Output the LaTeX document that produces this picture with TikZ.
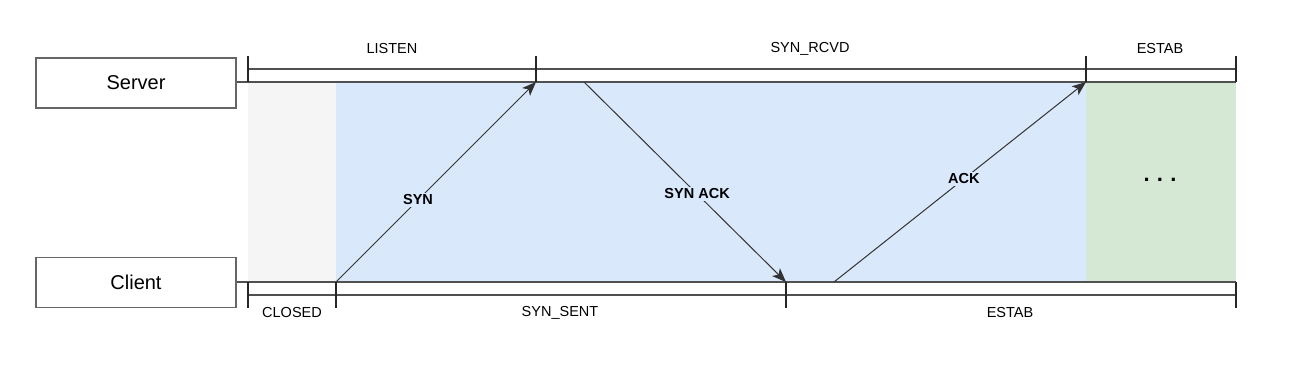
\documentclass[tikz,border=0pt]{standalone}
\usepackage{fontspec}
\setmainfont{Liberation Sans}
\usetikzlibrary{arrows.meta,positioning}
\definecolor{BoxGray}{RGB}{102,102,102}
\definecolor{LineGray}{RGB}{80,80,80}
\definecolor{ClosedFill}{RGB}{245,245,245}
\definecolor{SynFill}{RGB}{218,232,252}
\definecolor{EstabFill}{RGB}{213,232,212}
\tikzset{
  actor/.style={draw=BoxGray,line width=1.6pt,minimum width=200pt,minimum height=50pt,
    inner sep=0pt,font=\fontsize{20}{24}\selectfont},
  state/.style={font=\fontsize{14.5}{17}\selectfont,inner sep=0pt},
  msg/.style={->,line width=1pt,draw=black!80},
  msglabel/.style={fill=SynFill,inner sep=2pt,font=\bfseries\fontsize{14.5}{17}\selectfont},
  lifeline/.style={LineGray,line width=1.6pt},
  tick/.style={black!85,line width=1.4pt}
}

\begin{document}
\begin{tikzpicture}[x=1pt,y=-1pt,>={Stealth[length=14pt,width=11pt,inset=3.5pt]}]
      \useasboundingbox (0,0) rectangle (1291,367);
      % phases
      \fill[ClosedFill] (248,82) rectangle (336,282);
      \fill[SynFill] (336,82) rectangle (1086,282);
      \fill[EstabFill] (1086,82) rectangle (1236,282);
      % actors
      \node[actor] (server) at (136,83) {Server};
      \node[actor] (client) at (136,282.5) {Client};
      \coordinate (sEnd) at (1236,82);
      \coordinate (cEnd) at (1236,282);
      \draw[lifeline] (server.east|-sEnd) -- (sEnd);
      \draw[lifeline] (client.east|-cEnd) -- (cEnd);
      % server states
      \draw[LineGray,line width=1.2pt] (248,69) -- (1236,69);
      \foreach \x in {248,536,1086,1236}
        \draw[tick] (\x,56) -- (\x,82);
      \node[state] (listen) at (392,49) {LISTEN};
      \node[state] (rcvd) at (810,49) {SYN\_RCVD};
      \node[state] (sEstab) at (1160,49) {ESTAB};
      % client states
      \draw[LineGray,line width=1.2pt] (248,295) -- (1236,295);
      \foreach \x in {248,336,786,1236}
        \draw[tick] (\x,282) -- (\x,308);
      \node[state] (closed) at (292,313) {CLOSED};
      \node[state] (sent) at (560,313) {SYN\_SENT};
      \node[state] (cEstab) at (1010,313) {ESTAB};
      % messages
      \coordinate (c1) at (336,282);
      \coordinate (s1) at (536,82);
      \coordinate (s2) at (584,82);
      \coordinate (c2) at (786,282);
      \coordinate (c3) at (834,282);
      \coordinate (s3) at (1086,82);
      \draw[msg] (c1) -- (s1) node[msglabel,pos=0.41] {SYN};
      \draw[msg] (s2) -- (c2) node[msglabel,pos=0.56] {SYN ACK};
      \draw[msg] (c3) -- (s3) node[msglabel,pos=0.515] {ACK};
      \node[font=\bfseries\fontsize{22}{26}\selectfont] (more) at (1160,180) {.\,\,.\,\,.};
    \end{tikzpicture}
\end{document}
